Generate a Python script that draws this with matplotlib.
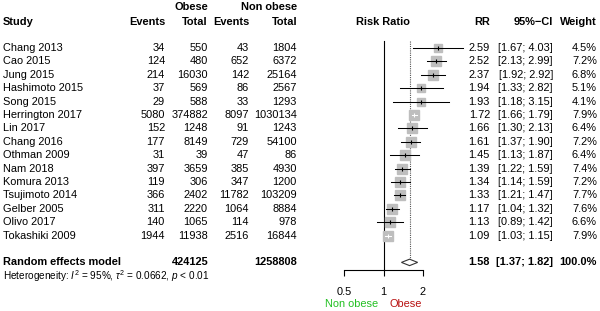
import numpy as np
import matplotlib
matplotlib.use("Agg")
import matplotlib.pyplot as plt
from matplotlib.transforms import blended_transform_factory
from matplotlib.patches import Polygon

plt.rcParams['font.family'] = ['Liberation Sans', 'DejaVu Sans']
plt.rcParams['mathtext.fontset'] = 'custom'
plt.rcParams['mathtext.rm'] = 'Liberation Sans'
plt.rcParams['mathtext.it'] = 'Liberation Sans:italic'
plt.rcParams['mathtext.bf'] = 'Liberation Sans:bold'

studies = ["Chang 2013", "Cao 2015", "Jung 2015", "Hashimoto 2015", "Song 2015",
           "Herrington 2017", "Lin 2017", "Chang 2016", "Othman 2009", "Nam 2018",
           "Komura 2013", "Tsujimoto 2014", "Gelber 2005", "Olivo 2017", "Tokashiki 2009"]
ev_o = [34, 124, 214, 37, 29, 5080, 152, 177, 31, 397, 119, 366, 311, 140, 1944]
tot_o = [550, 480, 16030, 569, 588, 374882, 1248, 8149, 39, 3659, 306, 2402, 2220, 1065, 11938]
ev_n = [43, 652, 142, 86, 33, 8097, 91, 729, 47, 385, 347, 11782, 1064, 114, 2516]
tot_n = [1804, 6372, 25164, 2567, 1293, 1030134, 1243, 54100, 86, 4930, 1200, 103209, 8884, 978, 16844]
rr = [2.59, 2.52, 2.37, 1.94, 1.93, 1.72, 1.66, 1.61, 1.45, 1.39, 1.34, 1.33, 1.17, 1.13, 1.09]
lo = [1.67, 2.13, 1.92, 1.33, 1.18, 1.66, 1.30, 1.37, 1.13, 1.22, 1.14, 1.21, 1.04, 0.89, 1.03]
hi = [4.03, 2.99, 2.92, 2.82, 3.15, 1.79, 2.13, 1.90, 1.87, 1.59, 1.59, 1.47, 1.32, 1.42, 1.15]
weight = [4.5, 7.2, 6.8, 5.1, 4.1, 7.9, 6.4, 7.2, 6.4, 7.4, 7.2, 7.7, 7.6, 6.6, 7.9]
pooled_rr, pooled_lo, pooled_hi = 1.58, 1.37, 1.82
pooled_tot_o, pooled_tot_n = 424125, 1258808
hetero = r"Heterogeneity: $\mathit{I}^2$ = 95%, $\tau^2$ = 0.0662, $\mathit{p}$ < 0.01"
xticks = [0.5, 1, 2]
xticklabels = ["0.5", "1", "2"]

W, H = 600, 311
fig = plt.figure(figsize=(W / 100, H / 100), dpi=100)
fs = 7.9

# overlay axes in pixel coordinates
ax0 = fig.add_axes([0, 0, 1, 1])
ax0.set_xlim(0, W)
ax0.set_ylim(H, 0)
ax0.axis('off')

# forest axes
left_px, right_px = 344, 423
top_px, bot_px = 41, 270
axf = fig.add_axes([left_px / W, (H - bot_px) / H, (right_px - left_px) / W, (bot_px - top_px) / H])
axf.set_xscale('log')
axf.set_xlim(0.5, 2)
row0_px, drow = 48, 13.4
axf.set_ylim((bot_px - row0_px) / drow, (top_px - row0_px) / drow)
axf.patch.set_alpha(0)
for s in ['top', 'left', 'right']:
    axf.spines[s].set_visible(False)
axf.spines['bottom'].set_linewidth(0.8)
axf.set_yticks([])
axf.set_xticks(xticks)
axf.set_xticklabels(xticklabels, fontsize=fs)
axf.xaxis.set_minor_locator(matplotlib.ticker.NullLocator())
axf.tick_params(axis='x', direction='out', length=4.5, width=0.8, pad=8)

tr = blended_transform_factory(ax0.transData, axf.transData)

# headers
hy = -1.95
ty = -3.05
ax0.text(3, hy, "Study", transform=tr, fontsize=fs, fontweight='bold', ha='left', va='center')
for x, s in [(165, "Events"), (208, "Total"), (249, "Events"), (297, "Total"),
             (490, "RR"), (553, "95%\u2212CI"), (597, "Weight")]:
    ax0.text(x, hy, s, transform=tr, fontsize=fs, fontweight='bold', ha='right', va='center')
ax0.text(208, ty, "Obese", transform=tr, fontsize=fs, fontweight='bold', ha='right', va='center')
ax0.text(297, ty, "Non obese", transform=tr, fontsize=fs, fontweight='bold', ha='right', va='center')
ax0.text(383, hy, "Risk Ratio", transform=tr, fontsize=fs, fontweight='bold', ha='center', va='center')

n = len(studies)
rows = np.arange(n)
for i in range(n):
    y = rows[i]
    ax0.text(3, y, studies[i], transform=tr, fontsize=fs, ha='left', va='center')
    ax0.text(165, y, str(ev_o[i]), transform=tr, fontsize=fs, ha='right', va='center')
    ax0.text(208, y, str(tot_o[i]), transform=tr, fontsize=fs, ha='right', va='center')
    ax0.text(249, y, str(ev_n[i]), transform=tr, fontsize=fs, ha='right', va='center')
    ax0.text(297, y, str(tot_n[i]), transform=tr, fontsize=fs, ha='right', va='center')
    ax0.text(490, y, f"{rr[i]:.2f}", transform=tr, fontsize=fs, ha='right', va='center')
    ax0.text(553, y, f"[{lo[i]:.2f}; {hi[i]:.2f}]", transform=tr, fontsize=fs, ha='right', va='center')
    ax0.text(597, y, f"{weight[i]:.1f}%", transform=tr, fontsize=fs, ha='right', va='center')

# pooled row
py = n + 1
ax0.text(3, py, "Random effects model", transform=tr, fontsize=fs, fontweight='bold', ha='left', va='center')
ax0.text(208, py, str(pooled_tot_o), transform=tr, fontsize=fs, fontweight='bold', ha='right', va='center')
ax0.text(297, py, str(pooled_tot_n), transform=tr, fontsize=fs, fontweight='bold', ha='right', va='center')
ax0.text(490, py, f"{pooled_rr:.2f}", transform=tr, fontsize=fs, fontweight='bold', ha='right', va='center')
ax0.text(553, py, f"[{pooled_lo:.2f}; {pooled_hi:.2f}]", transform=tr, fontsize=fs, fontweight='bold', ha='right', va='center')
ax0.text(597, py, "100.0%", transform=tr, fontsize=fs, fontweight='bold', ha='right', va='center')
ax0.text(3, py + 1.05, hetero, transform=tr, fontsize=7.2, ha='left', va='center')

# reference lines
axf.plot([1, 1], [axf.get_ylim()[1], axf.get_ylim()[0]], color='black', lw=0.8, clip_on=False)
axf.plot([pooled_rr, pooled_rr], [axf.get_ylim()[1], py - 0.24], color='#555555', lw=0.8,
         ls=(0, (1, 1)), clip_on=False)

# study markers
px_per_log2 = (right_px - left_px) / 2.0
for i in range(n):
    y = rows[i]
    side_px = 3.56 * np.sqrt(weight[i])
    hw = side_px / 2 / px_per_log2
    inside = (np.log2(rr[i]) - np.log2(lo[i]) <= hw) and (np.log2(hi[i]) - np.log2(rr[i]) <= hw)
    col = 'white' if inside else 'black'
    axf.plot([rr[i]], [y], marker='s', ms=side_px * 0.72, mfc='#bebebe', mec='#bebebe',
             ls='none', clip_on=False, zorder=2)
    axf.plot([lo[i], hi[i]], [y, y], color=col, lw=0.75, clip_on=False, zorder=3)
    axf.plot([rr[i]], [y], marker='|', ms=3.2, mew=0.8, color=col, ls='none', clip_on=False, zorder=3)

# diamond
h = 0.24
dia = Polygon([(pooled_lo, py), (pooled_rr, py - h), (pooled_hi, py), (pooled_rr, py + h)],
              closed=True, facecolor='white', edgecolor='#333333', lw=0.8, clip_on=False, zorder=4)
axf.add_patch(dia)

# direction labels
ly = (304 - row0_px) / drow
ax0.text(378, ly, "Non obese", transform=tr, fontsize=fs, ha='right', va='center', color='#22c022')
ax0.text(389, ly, "Obese", transform=tr, fontsize=fs, ha='left', va='center', color='#b81010')

fig.savefig("out.png", dpi=100)
